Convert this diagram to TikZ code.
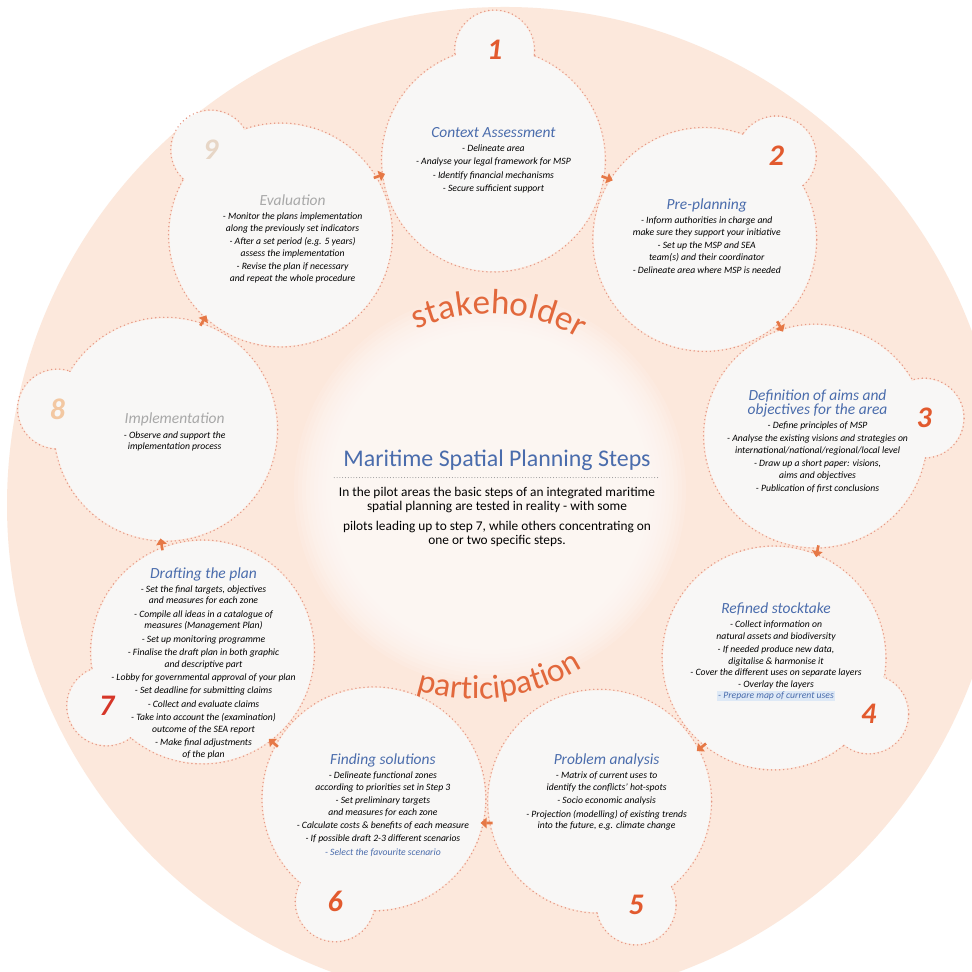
\documentclass[tikz,border=0pt]{standalone}
\usepackage{fontspec}
\setmainfont{Carlito}
\usetikzlibrary{calc,positioning,decorations.text,arrows.meta}

\definecolor{mspPeach}{RGB}{252,232,220}
\definecolor{mspBubble}{RGB}{248,247,246}
\definecolor{mspRim}{RGB}{229,151,132}
\definecolor{mspBlue}{RGB}{74,108,172}
\definecolor{mspGrey}{RGB}{168,168,168}
\definecolor{mspOrange}{RGB}{226,90,46}
\definecolor{mspRed}{RGB}{214,54,40}
\definecolor{mspPale}{RGB}{243,200,162}
\definecolor{mspBeige}{RGB}{231,214,198}
\definecolor{mspArrow}{RGB}{230,120,70}
\definecolor{mspWord}{RGB}{226,104,60}
\definecolor{mspHighlight}{RGB}{222,233,246}

\newcommand{\titleline}[2][mspBlue]{{\color{#1}\fontsize{8.8}{10}\selectfont #2}}
\newcommand{\steptitle}[2][mspBlue]{\titleline[#1]{#2}\\[1.5pt]}

\begin{document}
\begin{tikzpicture}[x=0.02cm,y=0.02cm]
\tikzset{rim/.style = {draw=mspRim, line width=0.9pt, dash pattern=on 0pt off 2.3pt, line cap=round}}
\tikzset{bubble/.style = {fill=mspBubble}}
\tikzset{steptext/.style = {align=center, inner sep=1pt, font=\fontsize{5.5}{6.6}\selectfont\itshape}}
\tikzset{stepnum/.style = {inner sep=0pt, font=\fontsize{17}{17}\selectfont\bfseries\itshape, text=mspOrange}}
\tikzset{cycarrow/.style = {draw=mspArrow, line width=1.5pt, -{Triangle[length=3.5pt,width=6pt]}}}
\tikzset{maintitle/.style = {inner sep=2pt, text=mspBlue, font=\fontsize{13.6}{16}\selectfont}}
\tikzset{maintext/.style = {align=center, inner sep=1pt, font=\fontsize{7.6}{8.2}\selectfont}}
\tikzset{sepline/.style = {draw=gray!80, line width=0.6pt, dash pattern=on 0pt off 1.6pt, line cap=round}}

\useasboundingbox (0,0) rectangle (972,972);
\clip (0,0) rectangle (972,972);
\fill[white] (0,0) rectangle (972,972);
\fill[mspPeach] (505,467) circle[radius=498];

\coordinate (O) at (490,482);
\foreach \r in {196,192,...,160}
  \fill[white, opacity=0.12] (O) circle[radius=\r];

\foreach \k in {1,...,9} {
  \pgfmathsetmacro{\ang}{89.4-40*(\k-1)}
  \pgfmathsetmacro{\mang}{69.4-40*(\k-1)}
  \coordinate (c\k) at ($(O)+(\ang:330)$);
  \coordinate (n\k) at ($(O)+(\ang:440)$);
  \coordinate (m\k) at ($(O)+(\mang:333)$);
  \draw[rim] (c\k) circle[radius=112] (n\k) circle[radius=40];
  \fill[bubble] (c\k) circle[radius=111] (n\k) circle[radius=39];
}

\foreach \k in {1,...,9} {
  \pgfmathsetmacro{\ma}{69.4-40*(\k-1)+90}
  \pgfmathsetmacro{\mb}{69.4-40*(\k-1)-90}
  \draw[cycarrow] ($(m\k)+(\ma:6)$) -- ($(m\k)+(\mb:6)$);
}

\node[stepnum] (d1) at (n1) {1};
\node[stepnum] (d2) at (n2) {2};
\node[stepnum] (d3) at (n3) {3};
\node[stepnum] (d4) at (n4) {4};
\node[stepnum] (d5) at (n5) {5};
\node[stepnum] (d6) at (n6) {6};
\node[stepnum, text=mspRed] (d7) at (n7) {7};
\node[stepnum, text=mspPale] (d8) at (n8) {8};
\node[stepnum, text=mspBeige] (d9) at (n9) {9};

\node[steptext] (s1) at ($(c1)+(0,0)$) {\steptitle{Context Assessment}
  - Delineate area\\[1pt]
  - Analyse your legal framework for MSP\\[1pt]
  - Identify financial mechanisms\\[1pt]
  - Secure sufficient support};

\node[steptext] (s2) at ($(c2)+(2,3)$) {\steptitle{Pre-planning}
  - Inform authorities in charge and\\make sure they support your initiative\\[1pt]
  - Set up the MSP and SEA\\team(s) and their coordinator\\[1pt]
  - Delineate area where MSP is needed};

\node[steptext] (s3) at ($(c3)+(2,-5)$) {\titleline{Definition of aims and}\\\steptitle{objectives for the area}
  - Define principles of MSP\\[1pt]
  - Analyse the existing visions and strategies on\\international/national/regional/local level\\[1pt]
  - Draw up a short paper: visions,\\aims and objectives\\[1pt]
  - Publication of first conclusions};

\node[steptext] (s4) at ($(c4)+(2,6)$) {\steptitle{Refined stocktake}
  - Collect information on\\natural assets and biodiversity\\[1pt]
  - If needed produce new data,\\digitalise \& harmonise it\\
  - Cover the different uses on separate layers\\
  - Overlay the layers\\
  {\fboxsep=0.5pt\colorbox{mspHighlight}{\color{mspBlue}- Prepare map of current uses}}};

\node[steptext] (s5) at ($(c5)+(7,9)$) {\steptitle{Problem analysis}
  - Matrix of current uses to\\identify the conflicts' hot-spots\\[1pt]
  - Socio economic analysis\\[1pt]
  - Projection (modelling) of existing trends\\into the future, e.g. climate change};

\node[steptext] (s6) at ($(c6)+(9,-6)$) {\steptitle{Finding solutions}
  - Delineate functional zones\\according to priorities set in Step 3\\[1pt]
  - Set preliminary targets\\and measures for each zone\\[1pt]
  - Calculate costs \& benefits of each measure\\[1pt]
  - If possible draft 2-3 different scenarios\\[1pt]
  {\color{mspBlue}- Select the favourite scenario}};

\node[steptext] (s7) at ($(c7)+(1,-11)$) {\steptitle{Drafting the plan}
  - Set the final targets, objectives\\and measures for each zone\\[1pt]
  - Compile all ideas in a catalogue of\\measures (Management Plan)\\[1pt]
  - Set up monitoring programme\\[1pt]
  - Finalise the draft plan in both graphic\\and descriptive part\\[1pt]
  - Lobby for governmental approval of your plan\\[1pt]
  - Set deadline for submitting claims\\[1pt]
  - Collect and evaluate claims\\[1pt]
  - Take into account the (examination)\\outcome of the SEA report\\[1pt]
  - Make final adjustments\\of the plan};

\node[steptext] (s8) at ($(c8)+(9,-3)$) {\steptitle[mspGrey]{Implementation}
  - Observe and support the\\implementation process};

\node[steptext] (s9) at ($(c9)+(12,-4)$) {\steptitle[mspGrey]{Evaluation}
  - Monitor the plans implementation\\along the previously set indicators\\[1pt]
  - After a set period (e.g. 5 years)\\assess the implementation\\[1pt]
  - Revise the plan if necessary\\and repeat the whole procedure};

\node[maintitle, anchor=base] (title) at (497,505) {Maritime Spatial Planning Steps};
\draw[sepline] ([xshift=-3pt,yshift=-6pt]title.base west) -- ([xshift=3pt,yshift=-6pt]title.base east);
\node[maintext, anchor=north] (intro) at ($(title.base)+(0,-18)$) {In the pilot areas the basic steps of an integrated maritime\\spatial planning are tested in reality - with some\\[3pt]pilots leading up to step 7, while others concentrating on\\one or two specific steps.};

\path[decorate, decoration={text along path, text align=center, text color=mspWord,
  text={|\fontsize{20}{20}\selectfont|stakeholder}}]
  ($(O)+(120:176)$) arc[start angle=120, end angle=54, radius=176];
\coordinate (P) at (476,473);
\path[decorate, decoration={text along path, text align=center, text color=mspWord,
  text={|\fontsize{19}{19}\selectfont|participation}}]
  ($(P)+(249:200)$) arc[start angle=249, end angle=306, radius=200];
\end{tikzpicture}
\end{document}
